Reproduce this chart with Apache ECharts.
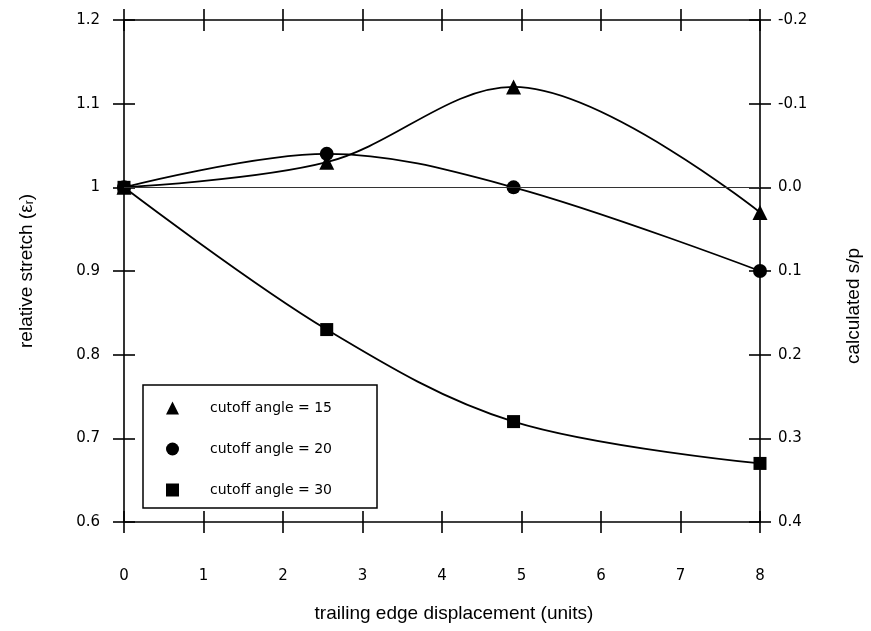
<!DOCTYPE html>
<html>
<head>
<meta charset="utf-8">
<script src="https://cdn.jsdelivr.net/npm/echarts@6/dist/echarts.min.js"></script>
<style>
  html, body { margin: 0; padding: 0; background: #fff; }
  #chart { width: 871px; height: 631px; }
</style>
</head>
<body>
<div id="chart"></div>
<script>
// x positions (units) of the measured points
const xValues = [0, 2.55, 4.9, 8];
// relative stretch for each cutoff angle
const angle15 = [1.0, 1.03, 1.12, 0.97];
const angle20 = [1.0, 1.04, 1.0, 0.9];
const angle30 = [1.0, 0.83, 0.72, 0.67];
const seriesNames = ['cutoff angle = 15', 'cutoff angle = 20', 'cutoff angle = 30'];
const referenceLevel = 1.0;

const NAME_FONT = 'Liberation Sans, Arial, sans-serif';
const TICK_FONT = 'DejaVu Sans, Verdana, sans-serif';
const INK = '#000';

const pairs = (ys) => ys.map((y, i) => [xValues[i], y]);

const chart = echarts.init(document.getElementById('chart'), null, { renderer: 'canvas' });

// each side gets two axes: one with ticks outward and one with ticks inward,
// so the ticks cross the frame like in the original plot
function xAxisDef(position, inside, showLine, showLabel) {
  return {
    type: 'value',
    position: position,
    offset: 0,
    min: 0,
    max: 8,
    interval: 1,
    axisLine: { show: showLine, onZero: false, lineStyle: { color: INK, width: 1.6 } },
    axisTick: { show: true, inside: inside, length: 11, lineStyle: { color: INK, width: 1.6 } },
    axisLabel: { show: showLabel, margin: 47, color: INK, fontSize: 15, fontFamily: TICK_FONT },
    splitLine: { show: false },
    name: showLabel ? 'trailing edge displacement (units)' : '',
    nameLocation: 'middle',
    nameGap: 82,
    nameTextStyle: { color: INK, fontSize: 19, fontFamily: NAME_FONT, padding: [0, 0, 0, 24] }
  };
}

function leftAxisDef(inside, showLabel) {
  return {
    type: 'value',
    position: 'left',
    offset: 0,
    min: 0.6,
    max: 1.2,
    interval: 0.1,
    axisLine: { show: showLabel, onZero: false, lineStyle: { color: INK, width: 1.6 } },
    axisTick: { show: true, inside: inside, length: 11, lineStyle: { color: INK, width: 1.6 } },
    axisLabel: { show: showLabel, margin: 24, color: INK, fontSize: 15, fontFamily: TICK_FONT },
    splitLine: { show: false },
    name: showLabel ? 'relative stretch (ε{s|r})' : '',
    nameLocation: 'middle',
    nameGap: 88,
    nameTextStyle: {
      color: INK, fontSize: 19, fontFamily: NAME_FONT,
      rich: {
        s: { fontSize: 12, fontFamily: NAME_FONT, color: INK, lineHeight: 10, verticalAlign: 'bottom' }
      }
    }
  };
}

function rightAxisDef(inside, showLabel) {
  return {
    type: 'value',
    position: 'right',
    offset: 0,
    inverse: true,
    min: -0.2,
    max: 0.4,
    interval: 0.1,
    axisLine: { show: showLabel, onZero: false, lineStyle: { color: INK, width: 1.6 } },
    axisTick: { show: true, inside: inside, length: 11, lineStyle: { color: INK, width: 1.6 } },
    axisLabel: {
      show: showLabel, margin: 18, color: INK, fontSize: 15, fontFamily: TICK_FONT,
      formatter: (v) => (Math.abs(v) < 1e-9 ? '0.0' : v.toFixed(1))
    },
    splitLine: { show: false },
    name: showLabel ? 'calculated s/p' : '',
    nameLocation: 'middle',
    nameGap: 84,
    nameTextStyle: { color: INK, fontSize: 19, fontFamily: NAME_FONT, padding: [0, 70, 0, 0] }
  };
}

function lineSeries(name, ys, symbol, size, extra) {
  return Object.assign({
    name: name,
    type: 'line',
    xAxisIndex: 0,
    yAxisIndex: 0,
    smooth: 0.35,
    data: pairs(ys),
    symbol: symbol,
    symbolSize: size,
    showAllSymbol: true,
    lineStyle: { color: INK, width: 1.8 },
    itemStyle: { color: INK },
    z: 3
  }, extra || {});
}

chart.setOption({
  backgroundColor: '#fff',
  animation: false,
  textStyle: { fontFamily: NAME_FONT },
  grid: { left: 124, right: 109, top: 20, bottom: 109, containLabel: false },
  legend: {
    orient: 'vertical',
    left: 143,
    top: 385,
    data: [
      { name: seriesNames[0], icon: 'triangle' },
      { name: seriesNames[1], icon: 'circle' },
      { name: seriesNames[2], icon: 'rect' }
    ],
    itemWidth: 13,
    itemHeight: 13,
    itemGap: 27,
    padding: [16, 45, 11, 23],
    borderColor: INK,
    borderWidth: 1.5,
    backgroundColor: '#fff',
    textStyle: { color: INK, fontSize: 14, fontFamily: TICK_FONT, padding: [0, 0, 0, 26] },
    selectedMode: false
  },
  xAxis: [
    xAxisDef('bottom', false, true, true),
    xAxisDef('bottom', true, false, false),
    xAxisDef('top', false, true, false),
    xAxisDef('top', true, false, false)
  ],
  yAxis: [
    leftAxisDef(false, true),
    leftAxisDef(true, false),
    rightAxisDef(false, true),
    rightAxisDef(true, false)
  ],
  series: [
    lineSeries(seriesNames[0], angle15, 'triangle', 15, {
      markLine: {
        silent: true,
        symbol: 'none',
        label: { show: false },
        lineStyle: { color: '#333', width: 1, type: 'solid' },
        data: [{ yAxis: referenceLevel }]
      }
    }),
    lineSeries(seriesNames[1], angle20, 'circle', 14),
    lineSeries(seriesNames[2], angle30, 'rect', 13)
  ]
});
</script>
</body>
</html>
